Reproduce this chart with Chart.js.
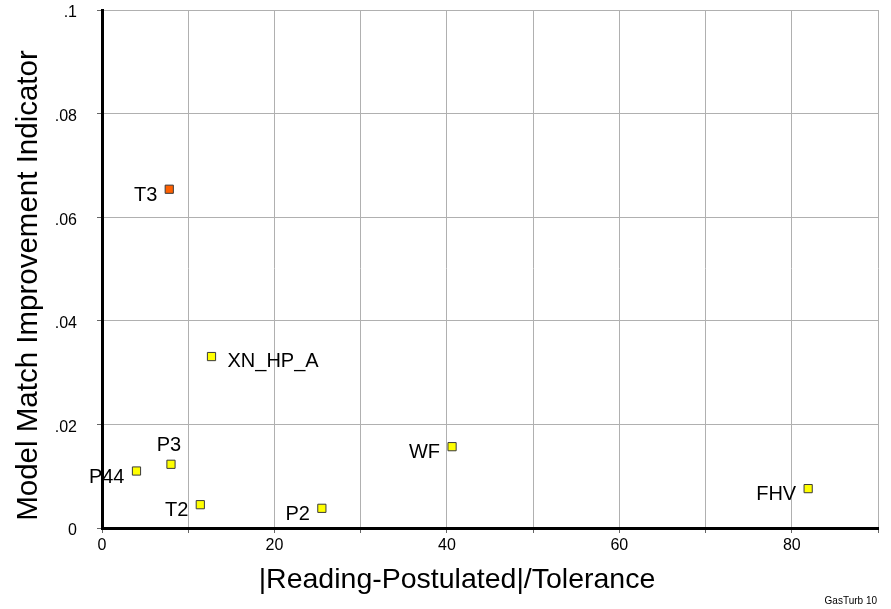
<!DOCTYPE html>
<html>
<head>
<meta charset="utf-8">
<script src="https://cdn.jsdelivr.net/npm/chart.js@4.4.0/dist/chart.umd.min.js"></script>
<style>
  html, body { margin: 0; padding: 0; background: #fff; }
  #wrap { width: 891px; height: 609px; position: relative; }
</style>
</head>
<body>
<div id="wrap"><canvas id="matchChart"></canvas></div>
<script>
const names = ['T3', 'XN_HP_A', 'P3', 'P44', 'T2', 'P2', 'WF', 'FHV'];
const deviation = [7.8, 12.7, 8.0, 4.0, 11.4, 25.5, 40.6, 81.9];
const improvement = [0.0654, 0.0331, 0.0123, 0.0110, 0.0045, 0.0038, 0.0157, 0.0076];
const highlighted = ['T3'];

const xTicks = [0, 20, 40, 60, 80];
const xMax = 90;
const yMax = 0.1;

// where each label sits relative to its marker (default is left)
const labelSide = { 'P3': 'above', 'XN_HP_A': 'right' };

const FONT = 'Liberation Sans, Arial, Helvetica, sans-serif';

const points = names.map(function (n, i) {
    return { x: deviation[i], y: improvement[i], name: n };
});

const pointLabels = {
    id: 'pointLabels',
    afterDatasetsDraw(chart) {
        const ctx = chart.ctx;
        const meta = chart.getDatasetMeta(0);
        ctx.save();
        ctx.fillStyle = '#000';
        ctx.font = '20px ' + FONT;
        ctx.textBaseline = 'middle';
        meta.data.forEach(function (el, i) {
            const side = labelSide[names[i]] || 'left';
            if (side === 'above') {
                ctx.textAlign = 'center';
                ctx.fillText(names[i], el.x - 2, el.y - 19);
            } else if (side === 'right') {
                ctx.textAlign = 'left';
                ctx.fillText(names[i], el.x + 16, el.y + 5);
            } else {
                ctx.textAlign = 'right';
                ctx.fillText(names[i], el.x - 12, el.y + 6);
            }
        });
        ctx.restore();
    },
    afterDraw(chart) {
        const ctx = chart.ctx;
        ctx.save();
        ctx.fillStyle = '#000';
        // axis titles
        ctx.textAlign = 'center';
        ctx.textBaseline = 'alphabetic';
        ctx.font = '28.5px ' + FONT;
        ctx.fillText('|Reading-Postulated|/Tolerance', 457, 588);
        ctx.font = '29.5px ' + FONT;
        ctx.translate(37, 285.5);
        ctx.rotate(-Math.PI / 2);
        ctx.fillText('Model Match Improvement Indicator', 0, 0);
        ctx.restore();

        ctx.save();
        ctx.fillStyle = '#000';
        ctx.font = '10px ' + FONT;
        ctx.textAlign = 'right';
        ctx.textBaseline = 'alphabetic';
        ctx.fillText('GasTurb 10', 877, 604);
        ctx.restore();
    }
};

const config = {
    type: 'scatter',
    data: {
        datasets: [{
            label: 'Measurements',
            data: points,
            pointStyle: 'rect',
            pointRadius: 5.8,
            pointHoverRadius: 5.8,
            borderWidth: 1,
            borderColor: '#3a3a3a',
            backgroundColor: names.map(function (n) {
                return highlighted.indexOf(n) >= 0 ? '#ff6000' : '#ffff00';
            })
        }]
    },
    options: {
        responsive: false,
        animation: false,
        layout: { padding: { left: 0, right: 13, top: 10, bottom: 0 } },
        plugins: {
            legend: { display: false },
            tooltip: { enabled: false }
        },
        scales: {
            x: {
                type: 'linear',
                min: 0,
                max: xMax,
                afterFit: function (scale) {
                    scale.height = 81;
                    scale.paddingLeft = 0;
                    scale.paddingRight = 0;
                },
                border: { display: true, color: '#000', width: 3, z: 1 },
                grid: { color: '#b0b0b0', lineWidth: 1, tickColor: '#666', tickLength: 5 },
                ticks: {
                    stepSize: 10,
                    autoSkip: false,
                    maxRotation: 0,
                    padding: 3,
                    color: '#000',
                    font: { family: FONT, size: 16 },
                    callback: function (v) { return xTicks.indexOf(v) >= 0 ? String(v) : ''; }
                }
            },
            y: {
                type: 'linear',
                min: 0,
                max: yMax,
                afterFit: function (scale) {
                    scale.width = 102;
                    scale.paddingTop = 0;
                    scale.paddingBottom = 0;
                },
                border: { display: true, color: '#000', width: 3, z: 1 },
                grid: { color: '#b0b0b0', lineWidth: 1, tickColor: '#666', tickLength: 5 },
                ticks: {
                    stepSize: 0.02,
                    autoSkip: false,
                    padding: 20,
                    labelOffset: 3,
                    color: '#000',
                    font: { family: FONT, size: 16 },
                    callback: function (v) {
                        if (Math.abs(v) < 1e-9) return '0';
                        return String(+v.toFixed(2)).replace(/^0/, '');
                    }
                }
            }
        }
    },
    plugins: [pointLabels]
};

const canvas = document.getElementById('matchChart');
canvas.width = 891;
canvas.height = 609;
const matchChart = new Chart(canvas, config);
</script>
</body>
</html>
